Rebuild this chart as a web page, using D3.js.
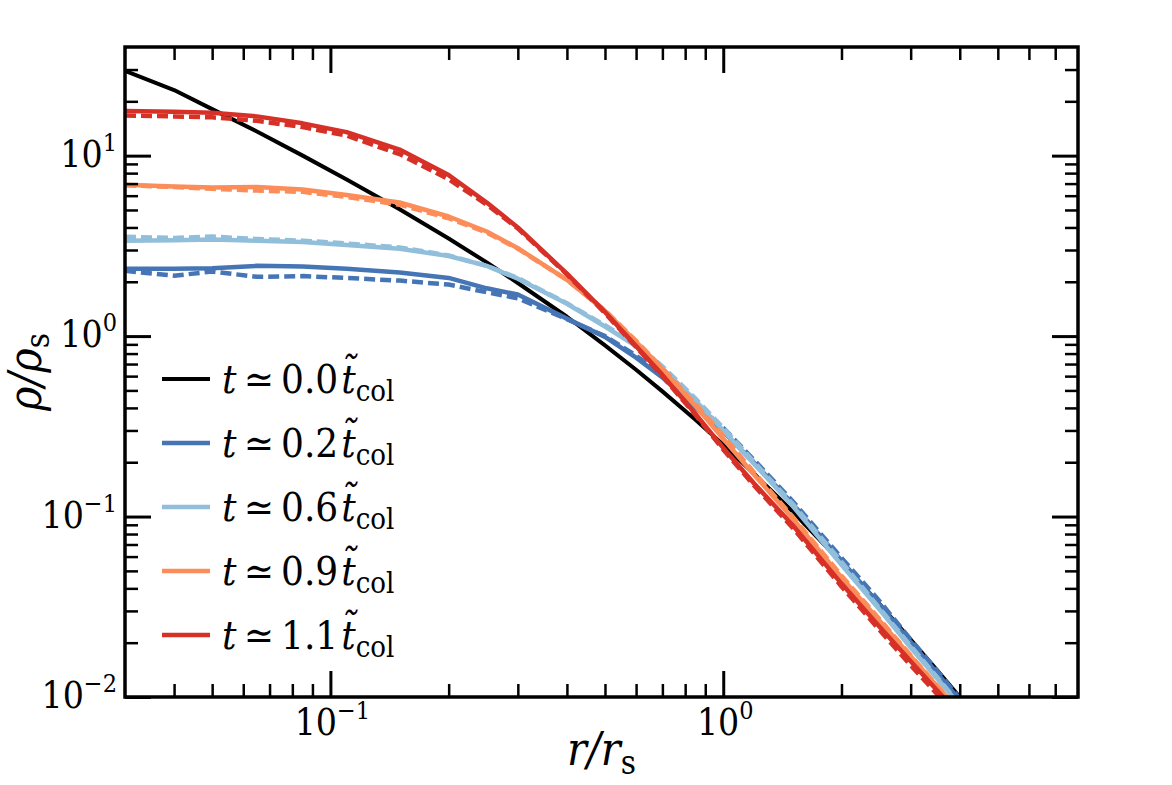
<!DOCTYPE html>
<html>
<head>
<meta charset="utf-8">
<script src="https://cdn.jsdelivr.net/npm/d3@7"></script>
<style>
  body { margin: 0; background: #fff; }
</style>
</head>
<body>
<div class="panel"></div>
<script>
// radii (r / r_s) shared by every profile
const radius = [0.03, 0.04, 0.05, 0.065, 0.085, 0.11, 0.15, 0.2, 0.25, 0.3, 0.4, 0.5, 0.6, 0.7, 0.85, 1.0, 1.2, 1.5, 2.0, 2.5, 3.0, 3.5, 4.0];

// density profiles rho / rho_s, solid and dashed runs
const rhoT00  = [29.5, 23.1, 18.1, 13.6, 10.0, 7.38, 5.04, 3.47, 2.56, 1.97, 1.28, 0.889, 0.651, 0.494, 0.344, 0.25, 0.172, 0.107, 0.0556, 0.0327, 0.0208, 0.0141, 0.0100];
const rhoT02  = [2.36, 2.36, 2.38, 2.45, 2.43, 2.36, 2.25, 2.10, 1.84, 1.70, 1.25, 0.99, 0.76, 0.59, 0.40, 0.295, 0.198, 0.118, 0.057, 0.0325, 0.0202, 0.0136, 0.0096];
const rhoT02b = [2.30, 2.16, 2.28, 2.13, 2.15, 2.10, 2.03, 1.93, 1.75, 1.62, 1.24, 1.00, 0.78, 0.61, 0.42, 0.31, 0.205, 0.122, 0.059, 0.034, 0.0208, 0.0140, 0.0098];
const rhoT06  = [3.38, 3.40, 3.43, 3.38, 3.32, 3.20, 3.05, 2.78, 2.45, 2.08, 1.51, 1.13, 0.88, 0.66, 0.44, 0.30, 0.195, 0.115, 0.054, 0.0305, 0.0188, 0.0127, 0.0090];
const rhoT06b = [3.55, 3.50, 3.56, 3.45, 3.38, 3.26, 3.10, 2.80, 2.45, 2.10, 1.52, 1.15, 0.90, 0.68, 0.45, 0.31, 0.200, 0.118, 0.056, 0.0310, 0.0192, 0.0129, 0.0091];
const rhoT09  = [6.90, 6.75, 6.65, 6.70, 6.50, 6.05, 5.50, 4.60, 3.80, 3.07, 2.05, 1.38, 0.93, 0.655, 0.41, 0.27, 0.170, 0.098, 0.046, 0.0265, 0.0168, 0.0115, 0.0083];
const rhoT09b = [6.85, 6.70, 6.55, 6.40, 6.30, 5.90, 5.35, 4.50, 3.75, 3.05, 2.05, 1.39, 0.94, 0.665, 0.42, 0.28, 0.175, 0.100, 0.047, 0.0270, 0.0170, 0.0116, 0.0084];
const rhoT11  = [17.7, 17.5, 17.3, 16.5, 15.1, 13.5, 10.8, 7.8, 5.5, 4.0, 2.22, 1.36, 0.88, 0.61, 0.37, 0.24, 0.152, 0.090, 0.0425, 0.0245, 0.0158, 0.0109, 0.0079];
const rhoT11b = [16.7, 16.5, 16.3, 15.6, 14.4, 12.9, 10.2, 7.4, 5.35, 3.95, 2.20, 1.34, 0.87, 0.60, 0.365, 0.235, 0.148, 0.087, 0.041, 0.0235, 0.0150, 0.0104, 0.0075];

const timeLabels = ["0.0", "0.2", "0.6", "0.9", "1.1"];
const xTickValues = [0.1, 1];
const yTickValues = [0.01, 0.1, 1, 10];

const colours = ["#000000", "#4575b4", "#91bfdb", "#fc8d59", "#d73027"];
const serif = "DejaVu Serif Condensed, DejaVu Serif, serif";

const width = 1172;
const height = 785;
const margin = { left: 125, right: 94, top: 47, bottom: 88 };

const svg = d3.select(".panel")
    .append("svg")
    .attr("width", width)
    .attr("height", height)
    .attr("viewBox", `0 0 ${width} ${height}`)
    .style("font-family", serif)
    .style("font-stretch", "condensed");

svg.append("rect").attr("width", width).attr("height", height).attr("fill", "#fff");

const x = d3.scaleLog().domain([0.03, 8]).range([margin.left, width - margin.right]);
const y = d3.scaleLog().domain([0.01, 40]).range([height - margin.bottom, margin.top]);

svg.append("clipPath")
    .attr("id", "plot-clip")
    .append("rect")
    .attr("x", margin.left)
    .attr("y", margin.top)
    .attr("width", width - margin.left - margin.right)
    .attr("height", height - margin.top - margin.bottom);

const line = d3.line()
    .x((d, i) => x(radius[i]))
    .y(d => y(d));

const solid = [rhoT00, rhoT02, rhoT06, rhoT09, rhoT11];
const dashed = [null, rhoT02b, rhoT06b, rhoT09b, rhoT11b];

const curves = svg.append("g").attr("clip-path", "url(#plot-clip)");

solid.forEach((values, k) => {
  curves.append("path")
        .datum(values)
        .attr("d", line)
        .attr("fill", "none")
        .attr("stroke", colours[k])
        .attr("stroke-width", k === 0 ? 4 : 4.5)
        .attr("stroke-linejoin", "round");
  if (dashed[k]) {
    curves.append("path")
          .datum(dashed[k])
          .attr("d", line)
          .attr("fill", "none")
          .attr("stroke", colours[k])
          .attr("stroke-width", 4.5)
          .attr("stroke-dasharray", "11,5");
  }
});

// ticks: major and minor on all four sides, pointing inward
const xMinor = x.ticks().filter(v => !xTickValues.some(m => Math.abs(m - v) < 1e-9) && v > 0.0301 && v < 7.99);
const yMinor = y.ticks().filter(v => !yTickValues.some(m => Math.abs(m - v) < 1e-9) && v > 0.0101 && v < 39.9);

function drawTicks(axis, scale, values, size, transform, w) {
  const g = svg.append("g")
      .attr("transform", transform)
      .call(axis(scale).tickValues(values).tickSize(-size).tickSizeOuter(0).tickFormat(""));
  g.select(".domain").remove();
  g.selectAll(".tick line").attr("stroke", "#000").attr("stroke-width", w);
  return g;
}

const bottomY = height - margin.bottom;
const rightX = width - margin.right;

drawTicks(d3.axisBottom, x, xTickValues, 26, `translate(0,${bottomY})`, 3);
drawTicks(d3.axisBottom, x, xMinor, 13, `translate(0,${bottomY})`, 2.5);
drawTicks(d3.axisTop, x, xTickValues, 26, `translate(0,${margin.top})`, 3);
drawTicks(d3.axisTop, x, xMinor, 13, `translate(0,${margin.top})`, 2.5);
drawTicks(d3.axisLeft, y, yTickValues, 26, `translate(${margin.left},0)`, 3);
drawTicks(d3.axisLeft, y, yMinor, 13, `translate(${margin.left},0)`, 2.5);
drawTicks(d3.axisRight, y, yTickValues, 26, `translate(${rightX},0)`, 3);
drawTicks(d3.axisRight, y, yMinor, 13, `translate(${rightX},0)`, 2.5);

svg.append("rect")
    .attr("x", margin.left)
    .attr("y", margin.top)
    .attr("width", width - margin.left - margin.right)
    .attr("height", height - margin.top - margin.bottom)
    .attr("fill", "none")
    .attr("stroke", "#000")
    .attr("stroke-width", 3.5);

function powerLabel(sel, v) {
  const e = Math.round(Math.log10(v));
  sel.append("tspan").text("10");
  sel.append("tspan")
     .attr("font-size", 25)
     .attr("dy", -16)
     .text(e < 0 ? "\u2212" + (-e) : String(e));
}

svg.append("g").selectAll("text")
    .data(xTickValues)
    .enter()
    .append("text")
    .attr("x", d => x(d) + 2)
    .attr("y", bottomY + 38)
    .attr("text-anchor", "middle")
    .attr("font-size", 37)
    .each(function(d) { powerLabel(d3.select(this), d); });

svg.append("g").selectAll("text")
    .data(yTickValues)
    .enter()
    .append("text")
    .attr("x", margin.left - 8)
    .attr("y", d => y(d) + 11)
    .attr("text-anchor", "end")
    .attr("font-size", 37)
    .each(function(d) { powerLabel(d3.select(this), d); });

// axis labels
const xLabel = svg.append("text")
    .attr("x", (margin.left + rightX) / 2)
    .attr("y", 765)
    .attr("text-anchor", "middle")
    .attr("font-size", 46);
xLabel.append("tspan").attr("font-style", "italic").text("r/r");
xLabel.append("tspan").attr("font-size", 33).attr("dy", 9).text("s");

const yLabel = svg.append("text")
    .attr("transform", `translate(41,${(margin.top + bottomY) / 2}) rotate(-90)`)
    .attr("text-anchor", "middle")
    .attr("font-size", 46);
yLabel.append("tspan").attr("font-style", "italic").text("\u03c1/\u03c1");
yLabel.append("tspan").attr("font-size", 33).attr("dy", 8).text("s");

// legend
const legend = svg.append("g");
const rows = legend.selectAll("g")
    .data(timeLabels)
    .enter()
    .append("g")
    .attr("transform", (d, i) => `translate(162, ${379 + i * 64})`);

rows.append("line")
    .attr("x1", 0).attr("x2", 48)
    .attr("y1", 0).attr("y2", 0)
    .attr("stroke", (d, i) => colours[i])
    .attr("stroke-width", (d, i) => i === 0 ? 4 : 4.5);

const labels = rows.append("text")
    .attr("x", 60)
    .attr("y", 14)
    .attr("font-size", 40);
labels.append("tspan").attr("font-style", "italic").text("t");
labels.append("tspan").text(d => "\u2009\u2243\u2009" + d);
labels.append("tspan").attr("font-style", "italic").attr("dx", 3).text("t\u0303");
labels.append("tspan").attr("font-size", 29).attr("dy", 8).text("col");
</script>
</body>
</html>
